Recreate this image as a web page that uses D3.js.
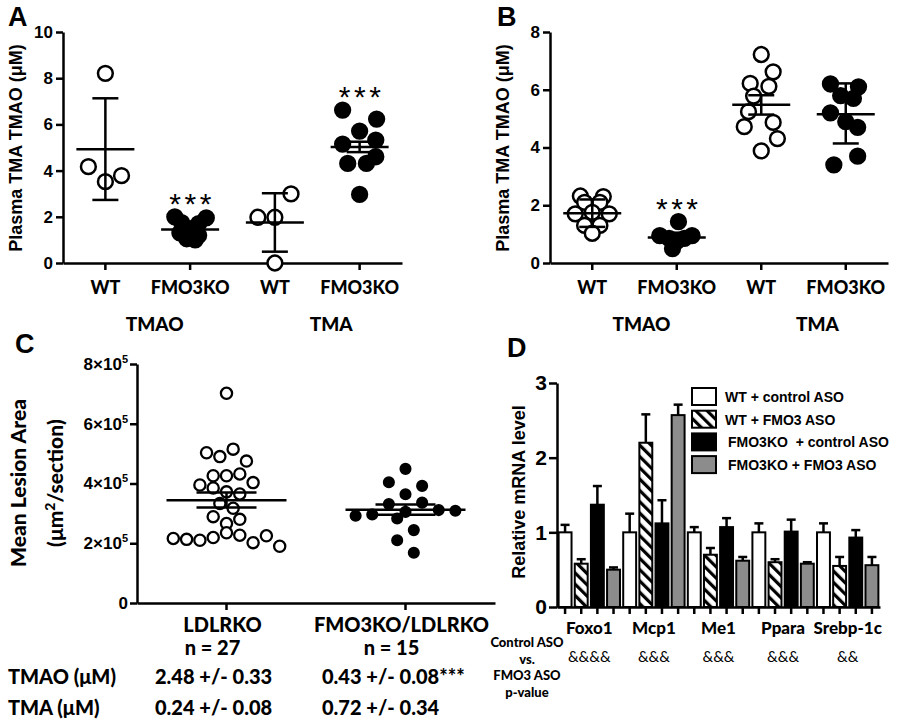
<!DOCTYPE html>
<html><head><meta charset="utf-8">
<script src="https://cdn.jsdelivr.net/npm/d3@7/dist/d3.min.js"></script>
<style>
body{margin:0;background:#fff;}
svg{display:block;}
</style></head><body>
<svg id="chart" width="900" height="724"></svg>
<script>
// ================= DATA =================
// Panels A & B: categories
const groupsAB = ["WT", "FMO3KO", "WT", "FMO3KO"];
const metabolites = ["TMAO", "TMA"];
const groupFilled = [false, true, false, true];
const ticksA = [0, 2, 4, 6, 8, 10];
const ticksB = [0, 2, 4, 6, 8];

// Panel A: plasma values (µM) and swarm column slot of each point
const aWtTmao = [8.21, 4.17, 3.52, 3.78];
const aWtTmaoSlot = [0, -2, 0, 1.9];
const aKoTmao = [2.0, 1.95, 1.75, 1.7, 1.45, 1.3, 1.2, 1.05, 1.0];
const aKoTmaoSlot = [-1.8, 1.9, -1, 1, 0, -1.2, 1, -0.4, 0.6];
const aWtTma = [2.99, 1.98, 1.98, 0.0];
const aWtTmaSlot = [1.9, -2, 0, 0];
const aKoTma = [6.62, 6.23, 5.71, 5.32, 5.15, 4.6, 4.31, 4.31, 2.97];
const aKoTmaSlot = [-2, 2, 0, 1.9, -2, 1.9, -1.4, 0.8, 0];
const aMean = [4.92, 1.45, 1.75, 5.02];
const aLow = [2.73, 1.1, 0.49, 4.8];
const aHigh = [7.13, 1.8, 3.02, 5.25];
const aSig = ["", "***", "", "***"];

// Panel B
const bWtTmao = [2.32, 2.3, 2.1, 2.1, 1.7, 1.7, 1.75, 1.3, 1.3, 1.03];
const bWtTmaoSlot = [-1.4, 1.3, -0.9, 0.9, -2, 2, 0, -0.9, 0.9, 0];
const bKoTmao = [1.43, 0.95, 0.95, 0.85, 0.85, 0.75, 0.5];
const bKoTmaoSlot = [0.2, -2, 1.8, -0.9, 0.9, 0, -0.5];
const bWtTma = [7.22, 6.62, 6.22, 6.12, 5.78, 5.24, 4.87, 4.72, 4.31, 3.88];
const bWtTmaSlot = [0, 1.4, -1.3, 0.9, -0.9, -1.5, 1.4, -2, 1.9, 0];
const bKoTma = [6.2, 6.1, 5.8, 5.7, 5.2, 4.9, 4.7, 3.7, 3.4];
const bKoTmaSlot = [-1.8, 1.5, -0.6, 0.9, -1.8, 0, 1.4, 1.4, -1.4];
const bMean = [1.72, 0.88, 5.48, 5.15];
const bLow = [1.25, 0.72, 5.14, 4.14];
const bHigh = [2.2, 1.05, 5.81, 6.22];
const bSig = ["", "***", "", ""];

// Panel C: mean lesion area (x10^5 µm²/section)
const cGroups = ["LDLRKO", "FMO3KO/LDLRKO"];
const cN = [27, 15];
const cTicks = [0, 2, 4, 6, 8];
const cLdlr = [7.02, 5.03, 5.15, 4.9, 4.75, 4.26, 4.26, 4.32, 3.95, 4.03, 3.85, 3.72, 3.65, 3.33, 3.17,
               2.89, 2.8, 2.66, 2.35, 2.27, 2.25, 2.16, 2.13, 2.1, 2.19, 2.02, 1.9];
const cLdlrSlot = [0, -1.5, 0.5, -0.5, 1.5, -1, 0, 1, -2, 2, -1, 0, 1, -0.5, 0.5,
                   -1, 1, 0, 0, 1, 3, -4, -3, -2, -1, 2, 4];
const cKo = [4.49, 4.04, 3.92, 3.64, 3.31, 3.36, 3.11, 3.09, 2.92, 2.96, 2.83, 2.44, 2.1, 1.68, 3.05];
const cKoSlot = [0, -1.25, 1.25, 0, -1.25, 1.25, 2.5, 3.75, -3.75, -2.5, -0.625, 0.625, -0.625, 0.625, 0];
const cMean = [3.44, 3.12];
const cLow = [3.2, 2.95];
const cHigh = [3.7, 3.3];
const cRowLabels = ["TMAO (\u03bcM)", "TMA (\u03bcM)"];
const cTmaoText = ["2.48 +/- 0.33", "0.43 +/- 0.08***"];
const cTmaText = ["0.24 +/- 0.08", "0.72 +/- 0.34"];

// Panel D: relative mRNA level
const genes = ["Foxo1", "Mcp1", "Me1", "Ppara", "Srebp-1c"];
const series = ["WT + control ASO", "WT + FMO3 ASO", "FMO3KO  + control ASO", "FMO3KO + FMO3 ASO"];
const wtCtrl = [1.0, 1.0, 1.0, 1.0, 1.0];
const wtCtrlErr = [0.1, 0.25, 0.07, 0.12, 0.12];
const wtAso = [0.58, 2.2, 0.7, 0.6, 0.55];
const wtAsoErr = [0.06, 0.38, 0.09, 0.04, 0.12];
const koCtrl = [1.37, 1.12, 1.07, 1.01, 0.93];
const koCtrlErr = [0.25, 0.31, 0.12, 0.16, 0.1];
const koAso = [0.5, 2.57, 0.62, 0.58, 0.56];
const koAsoErr = [0.03, 0.14, 0.05, 0.02, 0.11];
const dTicks = [0, 1, 2, 3];
const pMarks = ["&&&&", "&&&", "&&&", "&&&", "&&"];
const pLabel = ["Control ASO", "vs.", "FMO3 ASO", "p-value"];

// ================= STYLE =================
const ARIAL = "'Liberation Sans', Arial, sans-serif";
const CAL = "Lato, 'Open Sans', 'DejaVu Sans', sans-serif";
const CALW = 900;
const LW = 2.5;

const svg = d3.select("#chart");
svg.append("rect").attr("width", 900).attr("height", 724).attr("fill", "#fff");

const defs = svg.append("defs");
const pat = defs.append("pattern").attr("id", "hatch").attr("patternUnits", "userSpaceOnUse")
  .attr("width", 8).attr("height", 8).attr("patternTransform", "rotate(-45)");
pat.append("rect").attr("width", 8).attr("height", 8).attr("fill", "#fff");
pat.append("rect").attr("width", 3.2).attr("height", 8).attr("fill", "#000");

function styleAxis(g, size, family, weight) {
  g.attr("font-size", size).attr("font-family", family);
  g.select(".domain").attr("stroke", "#000").attr("stroke-width", LW);
  g.selectAll(".tick line").attr("stroke", "#000").attr("stroke-width", LW);
  g.selectAll(".tick text").attr("fill", "#000").attr("font-size", size)
    .attr("font-family", family).attr("font-weight", weight);
}

function panelLetter(t, x, y) {
  svg.append("text").attr("x", x).attr("y", y).text(t)
    .attr("font-family", ARIAL).attr("font-weight", "bold").attr("font-size", 27);
}

function drawDots(g, cx, y, vals, slots, unit, r, filled, sw) {
  g.append("g").selectAll("circle")
    .data(vals.map((v, i) => ({ v, s: slots[i] })))
    .join("circle")
    .attr("cx", d => cx + d.s * unit).attr("cy", d => y(d.v)).attr("r", r)
    .attr("fill", filled ? "#000" : "#fff").attr("stroke", "#000").attr("stroke-width", sw);
}

function drawErr(g, cx, y, mean, lo, hi, mw, cw) {
  const e = g.append("g").attr("stroke", "#000").attr("stroke-width", LW);
  e.append("line").attr("x1", cx - mw).attr("x2", cx + mw).attr("y1", y(mean)).attr("y2", y(mean));
  e.append("line").attr("x1", cx).attr("x2", cx).attr("y1", y(lo)).attr("y2", y(hi));
  e.append("line").attr("x1", cx - cw).attr("x2", cx + cw).attr("y1", y(lo)).attr("y2", y(lo));
  e.append("line").attr("x1", cx - cw).attr("x2", cx + cw).attr("y1", y(hi)).attr("y2", y(hi));
}

// ---------- Scatter panels A & B ----------
function scatterPanel(cfg) {
  const x = d3.scaleBand().domain(d3.range(groupsAB.length)).range(cfg.xr);
  const y = d3.scaleLinear().domain(cfg.yd).range([263, 32]);
  const cx = i => x(i) + x.bandwidth() / 2;
  const g = svg.append("g");

  const ya = g.append("g").attr("transform", `translate(${cfg.xr[0]},0)`)
    .call(d3.axisLeft(y).tickValues(cfg.ticks).tickFormat(d3.format("d"))
      .tickSize(7).tickPadding(3).tickSizeOuter(0));
  styleAxis(ya, 17, ARIAL, "bold");
  const xa = g.append("g").attr("transform", "translate(0,263)")
    .call(d3.axisBottom(x).tickFormat(i => groupsAB[i]).tickSize(7).tickPadding(11).tickSizeOuter(0));
  styleAxis(xa, 18, CAL, CALW);

  // metabolite group labels
  [[0, 1, 7], [2, 3, 14]].forEach((p, k) => {
    g.append("text").attr("x", (cx(p[0]) + cx(p[1])) / 2 + p[2]).attr("y", 331)
      .attr("text-anchor", "middle").attr("font-family", CAL).attr("font-weight", CALW)
      .attr("font-size", 19).text(metabolites[k]);
  });

  // y title
  g.append("text").attr("transform", `translate(${cfg.titleX},148) rotate(-90)`)
    .attr("text-anchor", "middle").attr("font-family", ARIAL).attr("font-weight", "bold")
    .attr("font-size", 18).text("Plasma TMA TMAO (\u03bcM)");

  cfg.vals.forEach((vals, i) => {
    drawDots(g, cx(i), y, vals, cfg.slots[i], 8.5, 7.4, groupFilled[i], 2.5);
  });
  cfg.vals.forEach((vals, i) => {
    drawErr(g, cx(i), y, cfg.mean[i], cfg.low[i], cfg.high[i], 29, 13);
    if (cfg.sig[i]) {
      const yc = y(d3.max(vals)) - 20;
      g.append("text").attr("x", cx(i) + 2).attr("y", yc + 17).attr("text-anchor", "middle")
        .attr("font-family", ARIAL).attr("font-size", 30).attr("letter-spacing", 3.5)
        .text(cfg.sig[i]);
    }
  });
}

scatterPanel({
  xr: [63, 402], yd: [0, 10], ticks: ticksA, titleX: 22,
  vals: [aWtTmao, aKoTmao, aWtTma, aKoTma],
  slots: [aWtTmaoSlot, aKoTmaoSlot, aWtTmaSlot, aKoTmaSlot],
  mean: aMean, low: aLow, high: aHigh, sig: aSig
});
scatterPanel({
  xr: [550, 888], yd: [0, 8], ticks: ticksB, titleX: 509,
  vals: [bWtTmao, bKoTmao, bWtTma, bKoTma],
  slots: [bWtTmaoSlot, bKoTmaoSlot, bWtTmaSlot, bKoTmaSlot],
  mean: bMean, low: bLow, high: bHigh, sig: bSig
});
panelLetter("A", 8, 26);
panelLetter("B", 497, 26);

// ---------- Panel C ----------
(function () {
  const x = d3.scaleBand().domain(d3.range(cGroups.length)).range([137, 495]);
  const y = d3.scaleLinear().domain([0, 8]).range([603, 364]);
  const cx = i => x(i) + x.bandwidth() / 2;
  const g = svg.append("g");

  const ya = g.append("g").attr("transform", "translate(137,0)")
    .call(d3.axisLeft(y).tickValues(cTicks).tickSize(7).tickPadding(2).tickSizeOuter(0).tickFormat(""));
  styleAxis(ya, 17, ARIAL, "bold");
  ya.selectAll(".tick text").each(function (d) {
    const t = d3.select(this);
    if (d === 0) { t.text("0"); return; }
    t.append("tspan").text(d + "\u00d710");
    t.append("tspan").attr("dy", -7).attr("font-size", 11).text("5");
  });
  const xa = g.append("g").attr("transform", "translate(0,603)")
    .call(d3.axisBottom(x).tickFormat("").tickSize(7).tickSizeOuter(0));
  styleAxis(xa, 18, CAL, CALW);

  g.append("text").attr("transform", "translate(26,483) rotate(-90)").attr("text-anchor", "middle")
    .attr("font-family", CAL).attr("font-weight", CALW).attr("font-size", 21).text("Mean Lesion Area");
  const t2 = g.append("text").attr("transform", "translate(63,483) rotate(-90)").attr("text-anchor", "middle")
    .attr("font-family", CAL).attr("font-weight", CALW).attr("font-size", 21);
  t2.append("tspan").text("(\u03bcm");
  t2.append("tspan").attr("dy", -8).attr("font-size", 14).text("2");
  t2.append("tspan").attr("dy", 8).text("/section)");

  drawDots(g, cx(0), y, cLdlr, cLdlrSlot, 13.3, 5.6, false, 2.3);
  drawDots(g, cx(1), y, cKo, cKoSlot, 13.3, 5.3, true, 1.5);
  [0, 1].forEach(i => drawErr(g, cx(i), y, cMean[i], cLow[i], cHigh[i], 60, 30));

  cGroups.forEach((name, i) => {
    g.append("text").attr("x", cx(i) - 4).attr("y", 632).attr("text-anchor", "middle")
      .attr("font-family", CAL).attr("font-weight", CALW).attr("font-size", 20).text(name);
    g.append("text").attr("x", cx(i) - 14).attr("y", 655).attr("text-anchor", "middle")
      .attr("font-family", CAL).attr("font-weight", CALW).attr("font-size", 20).text("n = " + cN[i]);
  });
  const colX = [155, 322];
  [[cRowLabels[0], cTmaoText, 684], [cRowLabels[1], cTmaText, 715]].forEach(row => {
    g.append("text").attr("x", 8).attr("y", row[2]).attr("font-family", CAL).attr("font-weight", CALW)
      .attr("font-size", 20).text(row[0]);
    row[1].forEach((s, i) => {
      g.append("text").attr("x", colX[i]).attr("y", row[2]).attr("font-family", CAL)
        .attr("font-weight", CALW).attr("font-size", 20).text(s);
    });
  });
})();
panelLetter("C", 15, 353);

// ---------- Panel D ----------
(function () {
  const values = [wtCtrl, wtAso, koCtrl, koAso];
  const errs = [wtCtrlErr, wtAsoErr, koCtrlErr, koAsoErr];
  const fills = ["#fff", "url(#hatch)", "#000", "#8c8c8c"];
  const bars = [];
  genes.forEach((gname, gi) => series.forEach((s, si) => {
    bars.push({ key: gname + "|" + si, gi, si, v: values[si][gi], e: errs[si][gi] });
  }));
  const x = d3.scaleBand().domain(bars.map(b => b.key)).range([557, 880])
    .paddingInner(0.2).paddingOuter(0.1);
  const y = d3.scaleLinear().domain([0, 3]).range([607, 383]);
  const g = svg.append("g");

  g.append("g").selectAll("rect").data(bars).join("rect")
    .attr("x", d => x(d.key)).attr("width", x.bandwidth())
    .attr("y", d => y(d.v)).attr("height", d => y(0) - y(d.v))
    .attr("fill", d => fills[d.si]).attr("stroke", "#000").attr("stroke-width", 2);

  const eg = g.append("g").attr("stroke", "#000").attr("stroke-width", LW);
  bars.forEach(d => {
    const c = x(d.key) + x.bandwidth() / 2;
    eg.append("line").attr("x1", c).attr("x2", c).attr("y1", y(d.v)).attr("y2", y(d.v + d.e));
    eg.append("line").attr("x1", c - 4.5).attr("x2", c + 4.5).attr("y1", y(d.v + d.e)).attr("y2", y(d.v + d.e));
  });

  const ya = g.append("g").attr("transform", "translate(557,0)")
    .call(d3.axisLeft(y).tickValues(dTicks).tickFormat(d3.format("d"))
      .tickSize(8).tickPadding(2).tickSizeOuter(0));
  styleAxis(ya, 21, ARIAL, "bold");
  const xa = g.append("g").attr("transform", "translate(0,607)")
    .call(d3.axisBottom(x).tickFormat("").tickSize(7).tickSizeOuter(0));
  styleAxis(xa, 12, ARIAL, "bold");

  g.append("text").attr("transform", "translate(525,492) rotate(-90)").attr("text-anchor", "middle")
    .attr("font-family", ARIAL).attr("font-weight", "bold").attr("font-size", 18).text("Relative mRNA level");

  genes.forEach((gname, gi) => {
    const c = (x(gname + "|0") + x(gname + "|3") + x.bandwidth()) / 2;
    g.append("text").attr("x", c).attr("y", 634).attr("text-anchor", "middle")
      .attr("font-family", CAL).attr("font-weight", CALW).attr("font-size", 17).text(gname);
    g.append("text").attr("x", c).attr("y", 662).attr("text-anchor", "middle")
      .attr("font-family", CAL).attr("font-size", 15).text(pMarks[gi]);
  });
  pLabel.forEach((s, i) => {
    g.append("text").attr("x", 527).attr("y", [647, 664, 680, 697][i]).attr("text-anchor", "middle")
      .attr("font-family", CAL).attr("font-weight", CALW).attr("font-size", 13).text(s);
  });

  // legend
  const lg = g.append("g");
  series.forEach((s, i) => {
    const top = 388 + i * 22.7;
    lg.append("rect").attr("x", 692).attr("y", top).attr("width", 24).attr("height", 17)
      .attr("fill", fills[i]).attr("stroke", "#000").attr("stroke-width", 2);
    lg.append("text").attr("x", i < 2 ? 725 : 728).attr("y", top + 14).attr("font-family", ARIAL)
      .attr("font-weight", "bold").attr("font-size", 14).style("white-space", "pre").text(s);
  });
})();
panelLetter("D", 507, 357);
</script>
</body></html>
